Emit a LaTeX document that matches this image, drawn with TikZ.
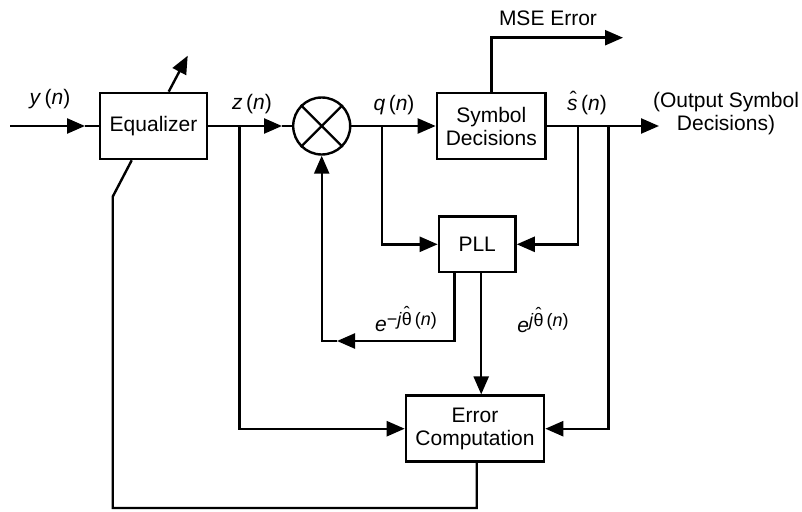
\documentclass[tikz,border=0pt]{standalone}
\usepackage{fontspec}
\setmainfont{Liberation Sans}
\usetikzlibrary{arrows.meta}

% circumflex set over a glyph, lowered to sit just above it
\newcommand{\hatted}[3][0pt]{\leavevmode\vbox{\offinterlineskip\halign{\hfil##\hfil\cr
  \smash{\hspace*{#1}\raisebox{#2}{ˆ}}\cr#3\cr}}}
\newcommand{\sig}[1]{\textit{#1}\,(\textit{n})}
\newcommand{\thetahat}{\hatted{-0.42em}{θ}}
\newcommand{\expo}[1]{\textit{e}\raisebox{6pt}{\fontsize{18}{18}\selectfont #1\textit{j}\thetahat\,(\textit{n})}}

\begin{document}
\begin{tikzpicture}[x=1pt,y=-1pt,
    line width=2.4pt,
    >={Triangle[length=18pt,width=15pt]},
    font=\fontsize{21}{23}\selectfont,
    block/.style={draw, line width=2.6pt, inner sep=0pt, align=center},
    lbl/.style={inner sep=0pt}]

  \useasboundingbox (0,0) rectangle (802,511);

  % blocks
  \node[block, minimum width=107pt, minimum height=66pt] (eq) at (153.5,126) {Equalizer};
  \node[draw, circle, minimum size=57pt, inner sep=0pt] (mult) at (321.7,126) {};
  \draw (mult.north west) -- (mult.south east);
  \draw (mult.north east) -- (mult.south west);
  \node[block, minimum width=108.7pt, minimum height=66pt] (sd) at (491.3,126) {Symbol\\Decisions};
  \node[block, minimum width=76.5pt, minimum height=55.3pt] (pll) at (477.2,244.3) {PLL};
  \node[block, minimum width=138pt, minimum height=66pt] (ec) at (475,428.7) {Error\\Computation};

  % junctions and free ends
  \coordinate (in)  at (10,126);
  \coordinate (yt)  at (85,126);
  \coordinate (zb)  at (239.3,126);
  \coordinate (zt)  at (282,126);
  \coordinate (qb)  at (381.7,126);
  \coordinate (sb1) at (577.7,126);
  \coordinate (sb2) at (608.3,126);
  \coordinate (out) at (659,126);
  \coordinate (mse) at (623,37.7);
  \coordinate (fbt) at (337,341);
  \coordinate (fbb) at (112.7,508);
  \coordinate (fbk) at (112.7,196.7);

  % forward path
  \draw[->] (in) -- (yt);
  \draw (yt) -- (eq.west);
  \draw[->] (eq.east) -- (zt);
  \draw (zt) -- (mult.west);
  \draw[->] (mult.east) -- (sd.west);
  \draw[->] (sd.east) -- (out);
  \draw[->] (sd.north) |- (mse);

  % branches
  \draw[->] (zb) |- (ec.west);
  \draw[->] (qb) |- (pll.west);
  \draw[->] (sb1) |- (pll.east);
  \draw[->] (sb2) |- (ec.east);

  % PLL outputs
  \draw[->] ([xshift=17pt]pll.south west) |- (fbt);
  \draw[->] (fbt) -- (mult.south |- fbt) -- (mult.south);
  \draw[->] ([xshift=4pt]pll.south) -- ([xshift=4pt]pll.south |- ec.north);

  % error feedback to the equalizer and adaptation arrow
  \draw ([xshift=1.7pt]ec.south) |- (fbb) -- (fbk) -- ([xshift=33pt]eq.south west);
  \draw[->] ([xshift=70pt]eq.north west) -- ++(19,-36);

  % labels
  \node[lbl, anchor=base] (ly) at (50,104) {\sig{y}};
  \node[lbl, anchor=base] (lz) at (252,109) {\sig{z}};
  \node[lbl, anchor=base] (lq) at (394,110) {\sig{q}};
  \node[lbl, anchor=base] (ls) at (587,110) {\hatted[2pt]{-0.36em}{\textit{s}}\,(\textit{n})};
  \node[lbl] (lmse) at (548,18) {MSE Error};
  \node[lbl, align=center] (lout) at (726,113.5) {(Output Symbol\\Decisions)};
  \node[lbl, anchor=base] (lem) at (406,331) {\expo{−}};
  \node[lbl, anchor=base] (lep) at (543,332) {\expo{}};
\end{tikzpicture}
\end{document}
